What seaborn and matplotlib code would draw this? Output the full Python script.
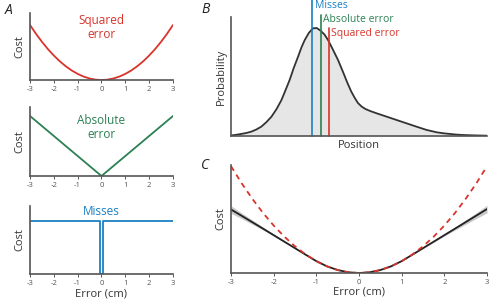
import numpy as np
import matplotlib.pyplot as plt
import seaborn as sns

# ---- data ----
err_ticks = [-3, -2, -1, 0, 1, 2, 3]

# cost curves (x in cm, cost in arbitrary units)
err_x = [-3, -2.75, -2.5, -2.25, -2, -1.75, -1.5, -1.25, -1, -0.75, -0.5, -0.25,
         0, 0.25, 0.5, 0.75, 1, 1.25, 1.5, 1.75, 2, 2.25, 2.5, 2.75, 3]
squared_cost = [9, 7.56, 6.25, 5.06, 4, 3.06, 2.25, 1.56, 1, 0.56, 0.25, 0.06,
                0, 0.06, 0.25, 0.56, 1, 1.56, 2.25, 3.06, 4, 5.06, 6.25, 7.56, 9]
abs_x = [-3, 0, 3]
abs_cost = [3, 0, 3]
miss_x = [-3, -0.07, -0.07, 0.07, 0.07, 3]
miss_cost = [1, 1, 0, 0, 1, 1]

# measured cost function (panel C) with its error band
measured_cost = [5.35, 4.82, 4.28, 3.74, 3.19, 2.64, 2.09, 1.54, 1.0, 0.56, 0.25, 0.06,
                 0, 0.06, 0.25, 0.56, 1.0, 1.54, 2.09, 2.64, 3.19, 3.74, 4.29, 4.84, 5.39]
measured_sem = [0.32, 0.24, 0.18, 0.12, 0.08, 0.05, 0.02, 0, 0, 0, 0, 0,
                0, 0, 0, 0, 0, 0, 0.02, 0.05, 0.08, 0.12, 0.18, 0.24, 0.32]

# skewed probability distribution (panel B)
position = [0, 2, 4, 6, 7.9, 9.9, 11.8, 13.8, 15.8, 17.8, 19.7, 21.3, 22.9, 24.5,
            26.2, 27.5, 28.8, 30.4, 32, 33.5, 35, 36.5, 37.9, 39.8, 41.8, 43.8,
            45.5, 47, 48.4, 49.6, 51, 52.5, 54.5, 56.9, 60.8, 64.7, 68.6, 72.5,
            76.4, 80.4, 83, 85.5, 88, 90.7, 96, 100]
probability = [0.5, 1.1, 1.9, 2.8, 4.0, 6.0, 8.6, 12.8, 17.9, 25, 33.3, 42.5, 51.9, 63,
               73.5, 82, 88.9, 95.5, 99.7, 100, 97.5, 94, 88.9, 80, 70.4, 59,
               49, 41, 35, 30.5, 27.3, 25, 23, 21, 17.9, 14.8, 11.7, 8.6,
               5.6, 3.4, 2.5, 1.9, 1.3, 0.9, 0.5, 0.3]
estimates = {"Misses": 31.8, "Absolute error": 35.0, "Squared error": 38.2}

red = "#d9342b"
green = "#2b8153"
blue = "#1b80c4"
spine = "#555555"

sns.set_style("ticks")
plt.rcParams["font.family"] = ["Open Sans", "DejaVu Sans"]
plt.rcParams["axes.unicode_minus"] = False

fig = plt.figure(figsize=(4.91, 3.01), dpi=100)


def style_axes(ax, ticks=True):
    sns.despine(ax=ax)
    for s in ("left", "bottom"):
        ax.spines[s].set_color(spine)
        ax.spines[s].set_linewidth(1.2)
    ax.set_yticks([])
    if ticks:
        ax.set_xticks(err_ticks)
        ax.tick_params(axis="x", length=2, width=0.7, color=spine, pad=2,
                       labelsize=5.5, labelcolor=spine)
    else:
        ax.set_xticks([])


# ---- panel A ----
axA1 = fig.add_axes([0.0611, 0.7342, 0.2912, 0.2226])
sns.lineplot(x=err_x, y=squared_cost, ax=axA1, color=red, lw=1.3, estimator=None)
axA1.set_xlim(-3, 3)
axA1.set_ylim(0, 10.96)
axA1.text(0.5, 0.78, "Squared\nerror", transform=axA1.transAxes, ha="center",
          va="center", color=red, fontsize=8.5, linespacing=1.1)

axA2 = fig.add_axes([0.0611, 0.4153, 0.2912, 0.2292])
sns.lineplot(x=abs_x, y=abs_cost, ax=axA2, color=green, lw=1.3, estimator=None)
axA2.set_xlim(-3, 3)
axA2.set_ylim(0, 3.45)
axA2.text(0.5, 0.71, "Absolute\nerror", transform=axA2.transAxes, ha="center",
          va="center", color=green, fontsize=8.5, linespacing=1.1)

axA3 = fig.add_axes([0.0611, 0.0887, 0.2912, 0.2279])
sns.lineplot(x=miss_x, y=miss_cost, ax=axA3, color=blue, lw=1.3, sort=False,
             estimator=None)
axA3.set_xlim(-3, 3)
axA3.set_ylim(0, 1.287)
axA3.text(0.5, 0.91, "Misses", transform=axA3.transAxes, ha="center",
          va="center", color=blue, fontsize=8.5)
axA3.set_xlabel("Error (cm)", fontsize=8, color="#333333", labelpad=1)

for ax in (axA1, axA2, axA3):
    style_axes(ax)
    ax.set_ylabel("Cost", fontsize=8, color="#333333", labelpad=3)

fig.text(0.018, 0.965, "A", fontsize=10, style="italic", color="#222222",
         ha="center", va="center")

# ---- panel B ----
axB = fig.add_axes([0.4705, 0.5482, 0.5214, 0.3953])
axB.fill_between(position, probability, color="#e6e6e6", lw=0)
sns.lineplot(x=position, y=probability, ax=axB, color="#333333", lw=1.3,
             estimator=None)
axB.set_xlim(0, 100)
axB.set_ylim(0, 110.2)
style_axes(axB, ticks=False)
axB.set_xlabel("Position", fontsize=8, color="#333333", labelpad=3)
axB.set_ylabel("Probability", fontsize=8, color="#333333", labelpad=3)

line_tops = {"Misses": 125.9, "Absolute error": 112, "Squared error": 100.3}
label_y = {"Misses": 121.3, "Absolute error": 108, "Squared error": 95.1}
colors = {"Misses": blue, "Absolute error": green, "Squared error": red}
for name, xpos in estimates.items():
    axB.plot([xpos, xpos], [0, line_tops[name]], color=colors[name], lw=1.2,
             clip_on=False)
    axB.text(xpos + 0.9, label_y[name], name, color=colors[name], fontsize=7.5,
             ha="left", va="center", clip_on=False)

fig.text(0.418, 0.97, "B", fontsize=10, style="italic", color="#222222",
         ha="center", va="center")

# ---- panel C ----
axC = fig.add_axes([0.4705, 0.0930, 0.5214, 0.3588])
lo = np.array(measured_cost) - np.array(measured_sem)
hi = np.array(measured_cost) + np.array(measured_sem)
axC.fill_between(err_x, lo, hi, color="#c8c8c8", lw=0)
sns.lineplot(x=err_x, y=measured_cost, ax=axC, color="#222222", lw=1.3,
             estimator=None)
sns.lineplot(x=err_x, y=squared_cost, ax=axC, color=red, lw=1.3,
             linestyle=(0, (3, 2.5)), estimator=None)
axC.set_xlim(-3, 3)
axC.set_ylim(0, 9.1)
style_axes(axC)
axC.set_xlabel("Error (cm)", fontsize=8, color="#333333", labelpad=1)
axC.set_ylabel("Cost", fontsize=8, color="#333333", labelpad=3)

fig.text(0.418, 0.45, "C", fontsize=10, style="italic", color="#222222",
         ha="center", va="center")

fig.savefig("out.png", dpi=100)
